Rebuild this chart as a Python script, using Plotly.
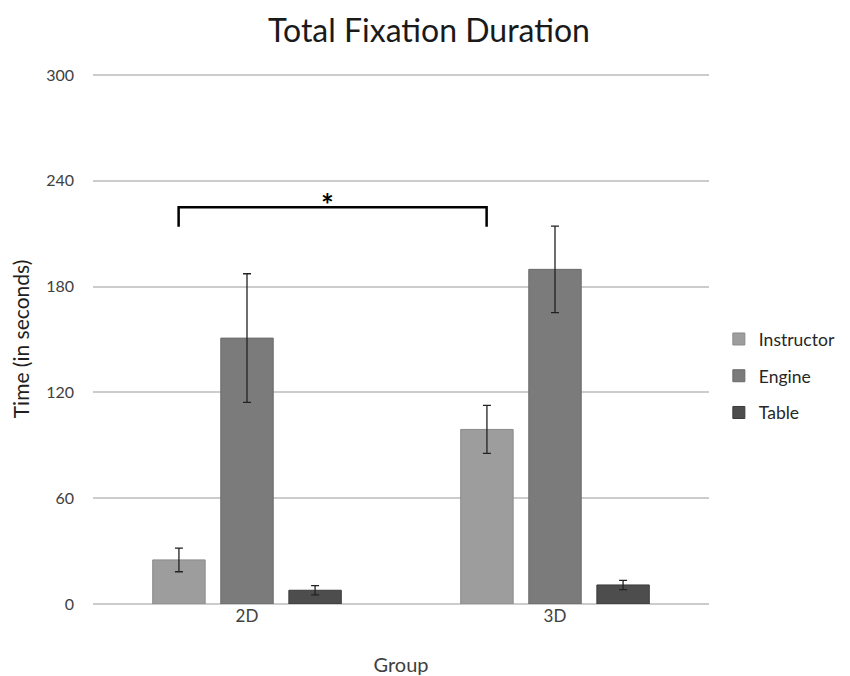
import plotly.graph_objects as go

groups = ["2D", "3D"]
series_names = ["Instructor", "Engine", "Table"]
instructor = [25.0, 99.0]
instructor_err = [6.7, 13.6]
engine = [150.8, 189.8]
engine_err = [36.5, 24.5]
table = [7.8, 10.8]
table_err = [2.6, 2.6]
colors = ["#9d9d9d", "#7b7b7b", "#4d4d4d"]
edge_colors = ["#8a8a8a", "#6a6a6a", "#3a3a3a"]
y_ticks = [0, 60, 120, 180, 240, 300]

# significance bracket between the two Instructor bars
bracket_x = [-0.222, -0.222, 0.778, 0.778]
bracket_y = [214, 225, 225, 214]
star_pos = [0.26, 227]

FONT = "Lato"

fig = go.Figure()
for name, vals, errs, c, ec in zip(series_names,
                                   [instructor, engine, table],
                                   [instructor_err, engine_err, table_err],
                                   colors, edge_colors):
    fig.add_trace(go.Bar(
        x=groups, y=vals, name=name, legendgroup=name,
        marker=dict(color=c, line=dict(color=ec, width=1)),
        error_y=dict(type="data", array=errs, visible=True,
                     color="#222222", thickness=1.3, width=4),
    ))

fig.add_trace(go.Scatter(
    x=bracket_x, y=bracket_y, mode="lines",
    line=dict(color="black", width=2.5), showlegend=False,
    hoverinfo="skip", xaxis="x2",
))

fig.add_annotation(x=star_pos[0], y=star_pos[1], xref="x2", yref="y",
                   text="<b>*</b>", showarrow=False,
                   font=dict(family=FONT, size=30, color="black"))

# page body has an 8px margin: figure is placed at (8, 8)
fig.update_layout(
    width=842, height=668,
    paper_bgcolor="white", plot_bgcolor="white",
    margin=dict(l=85, r=141, t=66, b=72, autoexpand=False),
    title=dict(text="Total Fixation Duration", x=0.5, xanchor="center",
               y=0.982, yanchor="top",
               font=dict(family=FONT, size=32, color="#1a1a1a")),
    barmode="group", bargap=0.337, bargroupgap=0.23,
    font=dict(family=FONT, color="#404040"),
    xaxis=dict(title=dict(text="Group", font=dict(size=20, color="#404040"), standoff=32),
               tickfont=dict(size=17, color="#404040"),
               showgrid=False, showline=False, ticks="", domain=[0, 1],
               automargin=False),
    xaxis2=dict(overlaying="x", range=[-0.5, 1.5], visible=False),
    yaxis=dict(title=dict(text="Time (in seconds)", font=dict(size=21, color="#202020"), standoff=30),
               range=[0, 300.6], tickvals=y_ticks,
               tickfont=dict(size=16, color="#404040"),
               ticklabelstandoff=18,
               showgrid=True, gridcolor="#cccccc", gridwidth=1.5,
               zeroline=True, zerolinecolor="#cccccc", zerolinewidth=1.5,
               ticks="", ticklen=0, automargin=False),
    legend=dict(x=1.016, y=0.43, yanchor="middle", xanchor="left",
                font=dict(size=17.5, color="#262626"),
                itemwidth=30, tracegroupgap=11, traceorder="grouped",
                bgcolor="rgba(0,0,0,0)"),
)

fig.write_html("out.html")
